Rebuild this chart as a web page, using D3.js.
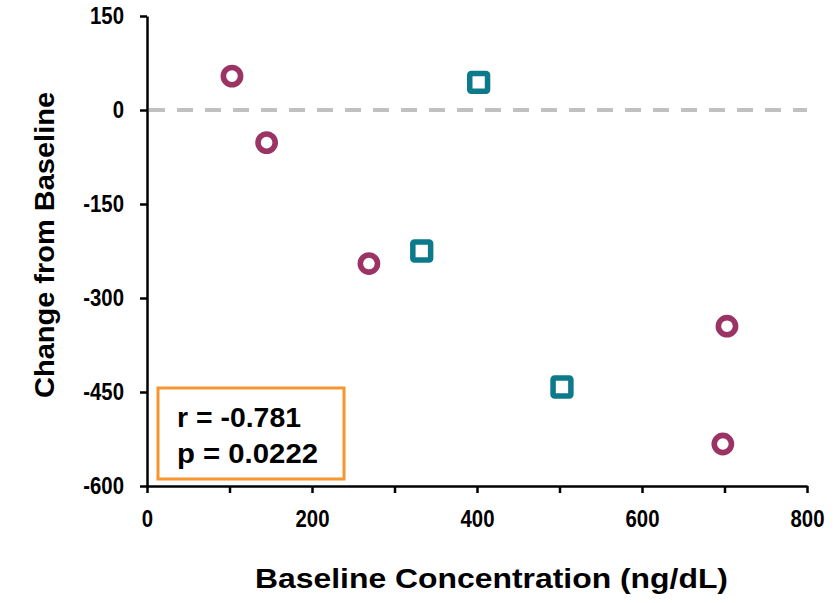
<!DOCTYPE html>
<html>
<head>
<meta charset="utf-8">
<script src="https://cdn.jsdelivr.net/npm/d3@7"></script>
<style>
  body { margin: 0; background: #fff; }
  svg { display: block; font-family: "Liberation Sans", Arial, sans-serif; }
</style>
</head>
<body>
<script>
const W = 836;
const H = 603;
const Lpad = 147;
const Tpad = 16;
const Rpad = 29;
const Bpad = 117;

// data
const circleX = [103, 145, 269, 703, 698];
const circleY = [54, -52, -245, -345, -533];
const squareX = [402, 333, 503];
const squareY = [44, -225, -442];

const xTicks = [0, 100, 200, 300, 400, 500, 600, 700, 800];
const yTicks = [150, 0, -150, -300, -450, -600];
const statLines = ["r = -0.781", "p = 0.0222"];

const circleColor = "#9b3464";
const squareColor = "#0d7a8b";
const boxColor = "#f5962e";

const svg = d3.select("body")
  .append("svg")
  .attr("width", W)
  .attr("height", H);

const xScale = d3.scaleLinear()
  .domain([0, 800])
  .range([Lpad, W - Rpad]);

const yScale = d3.scaleLinear()
  .domain([-600, 150])
  .range([H - Bpad, Tpad]);

// squeeze text to the narrow look of the original
function squeeze(sel, k) {
  sel.each(function () {
    const w = this.getComputedTextLength();
    d3.select(this)
      .attr("textLength", w * k)
      .attr("lengthAdjust", "spacingAndGlyphs");
  });
}

// zero line
svg.append("line")
  .attr("x1", xScale(0) + 2)
  .attr("x2", xScale(800))
  .attr("y1", yScale(0))
  .attr("y2", yScale(0))
  .attr("stroke", "#c0c0c0")
  .attr("stroke-width", 4)
  .attr("stroke-dasharray", "16,12");

const xAxis = d3.axisBottom(xScale)
  .tickValues(xTicks)
  .tickSize(7)
  .tickSizeOuter(0)
  .tickPadding(18)
  .tickFormat(d => d % 200 === 0 ? String(d) : "");

const gx = svg.append("g")
  .attr("transform", `translate(0,${yScale(-600)})`)
  .call(xAxis);

const yAxis = d3.axisLeft(yScale)
  .tickValues(yTicks)
  .tickSize(7)
  .tickSizeOuter(0)
  .tickPadding(16)
  .tickFormat(d => String(d));

const gy = svg.append("g")
  .attr("transform", `translate(${xScale(0)},0)`)
  .call(yAxis);

[gx, gy].forEach(g => {
  g.attr("font-family", null).attr("font-size", null);
  g.selectAll("path, line").attr("stroke", "#000").attr("stroke-width", 2.5);
  g.selectAll("text")
    .attr("fill", "#000")
    .style("font-size", "23px")
    .style("font-weight", "bold");
  squeeze(g.selectAll("text").filter(function () { return this.textContent !== ""; }), 0.885);
});

// axis titles
svg.append("text")
  .text("Baseline Concentration (ng/dL)")
  .attr("x", 491.5)
  .attr("y", 588)
  .attr("text-anchor", "middle")
  .style("font-size", "28px")
  .style("font-weight", "bold")
  .attr("textLength", 473)
  .attr("lengthAdjust", "spacingAndGlyphs");

svg.append("text")
  .text("Change from Baseline")
  .attr("transform", "translate(54,245) rotate(-90)")
  .attr("text-anchor", "middle")
  .style("font-size", "28px")
  .style("font-weight", "bold")
  .attr("textLength", 306)
  .attr("lengthAdjust", "spacingAndGlyphs");

// stats box
svg.append("rect")
  .attr("x", 158)
  .attr("y", 388)
  .attr("width", 186)
  .attr("height", 91)
  .attr("fill", "none")
  .attr("stroke", boxColor)
  .attr("stroke-width", 3);

const statW = [124, 141];
svg.selectAll("text.stat")
  .data(statLines)
  .enter()
  .append("text")
  .attr("class", "stat")
  .text(d => d)
  .attr("x", 177)
  .attr("y", (d, i) => 427 + i * 36)
  .style("font-size", "27px")
  .style("font-weight", "bold")
  .attr("textLength", (d, i) => statW[i])
  .attr("lengthAdjust", "spacingAndGlyphs");

// markers
const circles = circleX.map((x, i) => ({ x: x, y: circleY[i] }));
const squares = squareX.map((x, i) => ({ x: x, y: squareY[i] }));

svg.selectAll("circle.pt")
  .data(circles)
  .enter()
  .append("circle")
  .attr("class", "pt")
  .attr("cx", d => xScale(d.x))
  .attr("cy", d => yScale(d.y))
  .attr("r", 8.6)
  .attr("fill", "#fff")
  .attr("stroke", circleColor)
  .attr("stroke-width", 5.6);

const S = 17.8;
svg.selectAll("rect.pt")
  .data(squares)
  .enter()
  .append("rect")
  .attr("class", "pt")
  .attr("x", d => xScale(d.x) - S / 2)
  .attr("y", d => yScale(d.y) - S / 2)
  .attr("width", S)
  .attr("height", S)
  .attr("rx", 1.5)
  .attr("fill", "#fff")
  .attr("stroke", squareColor)
  .attr("stroke-width", 5.5);
</script>
</body>
</html>
